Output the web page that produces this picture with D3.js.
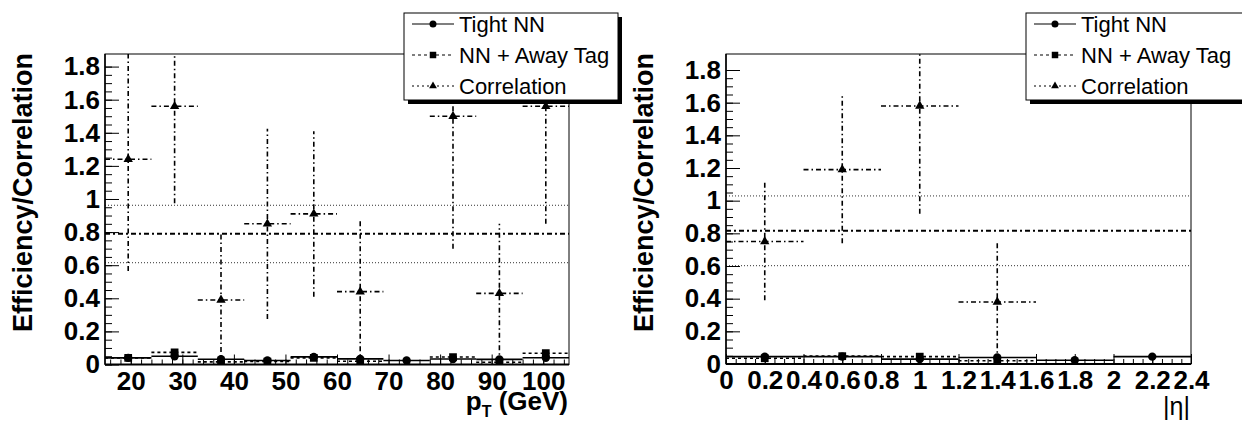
<html>
<head>
<script src="https://cdnjs.cloudflare.com/ajax/libs/d3/7.8.5/d3.min.js" charset="utf-8"></script>
<style type="text/css">
body { margin: 0; background: #fff; }
text { font-family: "Liberation Sans", Arial, Helvetica, sans-serif; }
</style>
</head>
<body>
<script type="text/javascript">
// ---- pT panel data (bins of 9 GeV) ----
var ptEdges = [15, 24, 33, 42, 51, 60, 69, 78, 87, 96, 105]
var ptTight = [0.040, 0.050, 0.032, 0.024, 0.046, 0.034, 0.024, 0.033, 0.031, 0.041]
var ptTightErr = [0.006, 0.007, 0.006, 0.005, 0.006, 0.006, 0.005, 0.006, 0.006, 0.007]
var ptAway = [0.040, 0.073, 0.016, 0.018, 0.040, 0.020, 0, 0.045, 0.014, 0.068]
var ptAwayErr = [0.012, 0.016, 0.010, 0.010, 0.012, 0.010, 0, 0.014, 0.010, 0.016]
var ptCorr = [1.24, 1.56, 0.39, 0.85, 0.91, 0.44, null, 1.50, 0.43, 1.56]
var ptCorrErr = [0.675, 0.585, 0.40, 0.575, 0.50, 0.435, null, 0.80, 0.42, 0.71]
var ptMean = 0.79
var ptBand = [0.615, 0.962]
var ptTicks = [20, 30, 40, 50, 60, 70, 80, 90, 100]

// ---- |eta| panel data (bins of 0.4) ----
var etaEdges = [0, 0.4, 0.8, 1.2, 1.6, 2.0, 2.4]
var etaTight = [0.045, 0.045, 0.030, 0.040, 0.023, 0.045]
var etaTightErr = [0.006, 0.006, 0.006, 0.006, 0.005, 0.006]
var etaAway = [0.035, 0.048, 0.045, 0.020, 0, 0]
var etaAwayErr = [0.010, 0.012, 0.012, 0.010, 0, 0]
var etaCorr = [0.75, 1.19, 1.58, 0.38, null, null]
var etaCorrErr = [0.36, 0.45, 0.66, 0.36, null, null]
var etaMean = 0.816
var etaBand = [0.602, 1.029]
var etaTicks = [0, 0.2, 0.4, 0.6, 0.8, 1, 1.2, 1.4, 1.6, 1.8, 2, 2.2, 2.4]

var yTicks = [0, 0.2, 0.4, 0.6, 0.8, 1, 1.2, 1.4, 1.6, 1.8]

var width = 1242, height = 423
var svg = d3.select("body").append("svg")
  .attr("width", width)
  .attr("height", height)

var fmt = function(d){ return String(+d.toFixed(1)) }

var styles = {
  tight: {dash: null, width: 1.6, sym: d3.symbolCircle, size: 55},
  away: {dash: "3,3", width: 1.6, sym: d3.symbolSquare, size: 60},
  corr: {dash: "5,3,1.5,3", width: 1.6, sym: d3.symbolTriangle, size: 38}
}

function drawPanel(p) {
  var g = svg.append("g")
  var x = d3.scaleLinear().domain(p.xDomain).range([p.left, p.right])
  var y = d3.scaleLinear().domain([0, p.yMax]).range([p.bottom, p.top])

  svg.append("clipPath").attr("id", "clip" + p.id).append("rect")
    .attr("x", p.left).attr("y", p.top)
    .attr("width", p.right - p.left).attr("height", p.bottom - p.top)
  var plot = g.append("g").attr("clip-path", "url(#clip" + p.id + ")")

  // band and mean lines
  plot.selectAll(".band").data(p.band).enter().append("line")
    .attr("x1", p.left).attr("x2", p.right)
    .attr("y1", function(d){ return y(d) }).attr("y2", function(d){ return y(d) })
    .attr("stroke", "#333").attr("stroke-width", 1).attr("stroke-dasharray", "1,2")
  plot.append("line")
    .attr("x1", p.left).attr("x2", p.right)
    .attr("y1", y(p.mean)).attr("y2", y(p.mean))
    .attr("stroke", "#000").attr("stroke-width", 2).attr("stroke-dasharray", "5,3,2,3")

  var bins = p.edges.slice(0, -1).map(function(lo, i){
    return {lo: lo, hi: p.edges[i+1], c: (lo + p.edges[i+1]) / 2,
      tight: p.tight[i], tightErr: p.tightErr[i],
      away: p.away[i], awayErr: p.awayErr[i],
      corr: p.corr[i], corrErr: p.corrErr[i]}
  })

  ;["away", "tight", "corr"].forEach(function(key){
    var st = styles[key]
    var pts = bins.filter(function(d){ return d[key] != null && d[key] > 0 })
    var s = plot.append("g")
    s.selectAll(".h").data(pts).enter().append("line")
      .attr("x1", function(d){ return x(d.lo) }).attr("x2", function(d){ return x(d.hi) })
      .attr("y1", function(d){ return y(d[key]) }).attr("y2", function(d){ return y(d[key]) })
      .attr("stroke", "#000").attr("stroke-width", st.width)
      .attr("stroke-dasharray", st.dash)
    s.selectAll(".v").data(pts).enter().append("line")
      .attr("x1", function(d){ return x(d.c) }).attr("x2", function(d){ return x(d.c) })
      .attr("y1", function(d){ return y(Math.max(0, d[key] - d[key + "Err"])) })
      .attr("y2", function(d){ return y(d[key] + d[key + "Err"]) })
      .attr("stroke", "#000").attr("stroke-width", st.width)
      .attr("stroke-dasharray", st.dash)
    s.selectAll(".m").data(pts).enter().append("path")
      .attr("d", d3.symbol().type(st.sym).size(st.size))
      .attr("transform", function(d){ return "translate(" + x(d.c) + "," + y(d[key]) + ")" })
      .attr("fill", "#000")
  })

  // frame
  g.append("rect")
    .attr("x", p.left).attr("y", p.top)
    .attr("width", p.right - p.left).attr("height", p.bottom - p.top)
    .attr("fill", "none").attr("stroke", "#000").attr("stroke-width", 1)

  // y axis, major and minor ticks
  var yMinor = d3.range(0, 37).map(function(i){ return i * 0.05 }).filter(function(v){ return v <= p.yMax })
  g.append("g").attr("transform", "translate(" + p.left + ",0)")
    .call(d3.axisLeft(y).tickValues(yMinor).tickFormat("").tickSizeInner(-7).tickSizeOuter(0))
    .call(function(a){ a.select(".domain").remove() })
  var ya = g.append("g").attr("transform", "translate(" + p.left + ",0)")
    .call(d3.axisLeft(y).tickValues(yTicks).tickFormat(fmt).tickSizeInner(-14).tickSizeOuter(0).tickPadding(5))
  ya.select(".domain").remove()
  ya.selectAll("text").style("font-size", "26px").style("font-weight", "bold")

  // x axis
  g.append("g").attr("transform", "translate(0," + p.bottom + ")")
    .call(d3.axisBottom(x).tickValues(p.xMinor).tickFormat("").tickSizeInner(-5).tickSizeOuter(0))
    .call(function(a){ a.select(".domain").remove() })
  var xa = g.append("g").attr("transform", "translate(0," + p.bottom + ")")
    .call(d3.axisBottom(x).tickValues(p.xTicks).tickFormat(fmt).tickSizeInner(-10).tickSizeOuter(0).tickPadding(7))
  xa.select(".domain").remove()
  xa.selectAll("text").style("font-size", "26px").style("font-weight", "bold")

  g.append("line").attr("x1", p.left).attr("x2", p.left)
    .attr("y1", p.top).attr("y2", p.bottom).attr("stroke", "#000").attr("stroke-width", 1.5)
  g.append("line").attr("x1", p.left).attr("x2", p.right)
    .attr("y1", p.bottom).attr("y2", p.bottom).attr("stroke", "#000").attr("stroke-width", 2)

  // y title
  g.append("text")
    .attr("transform", "translate(" + (p.left - 73) + "," + 192.5 + ") rotate(-90)")
    .attr("text-anchor", "middle")
    .style("font-size", "27px").style("font-weight", "bold")
    .text("Efficiency/Correlation")

  p.xTitle(g)

  // legend
  var lx = p.legendX, ly = 13, lw = p.legendW, lh = 87
  var lg = g.append("g")
  lg.append("rect").attr("x", lx + 4).attr("y", ly + 4).attr("width", lw).attr("height", lh).attr("fill", "#000")
  lg.append("rect").attr("x", lx).attr("y", ly).attr("width", lw).attr("height", lh)
    .attr("fill", "#fff").attr("stroke", "#000").attr("stroke-width", 1)
  var rows = [["tight", "Tight NN"], ["away", "NN + Away Tag"], ["corr", "Correlation"]]
  rows.forEach(function(r, i){
    var st = styles[r[0]]
    var by = 32 + i * 31
    lg.append("line").attr("x1", lx + 8).attr("x2", lx + 50)
      .attr("y1", by - 8).attr("y2", by - 8)
      .attr("stroke", "#000").attr("stroke-width", 1.2).attr("stroke-dasharray", r[0] == "corr" ? "2,3" : st.dash)
    lg.append("path").attr("d", d3.symbol().type(st.sym).size(st.size * 0.7))
      .attr("transform", "translate(" + (lx + 29) + "," + (by - 8) + ")").attr("fill", "#000")
    lg.append("text").attr("x", lx + 55).attr("y", by)
      .style("font-size", "22px").text(r[1])
  })
}

drawPanel({
  id: "pt", left: 105, right: 569, top: 54, bottom: 364.5,
  xDomain: [15, 105], yMax: 1.876,
  edges: ptEdges, tight: ptTight, tightErr: ptTightErr, away: ptAway, awayErr: ptAwayErr,
  corr: ptCorr, corrErr: ptCorrErr, mean: ptMean, band: ptBand,
  xTicks: ptTicks, xMinor: d3.range(16, 105, 2),
  legendX: 404, legendW: 214,
  xTitle: function(g){
    var t = g.append("text").attr("x", 568).attr("y", 410).attr("text-anchor", "end")
      .style("font-size", "26px").style("font-weight", "bold")
    t.append("tspan").text("p")
    t.append("tspan").attr("dy", 7).style("font-size", "16px").text("T")
    t.append("tspan").attr("dy", -7).text(" (GeV)")
  }
})

drawPanel({
  id: "eta", left: 726, right: 1191, top: 54, bottom: 364,
  xDomain: [0, 2.4], yMax: 1.898,
  edges: etaEdges, tight: etaTight, tightErr: etaTightErr, away: etaAway, awayErr: etaAwayErr,
  corr: etaCorr, corrErr: etaCorrErr, mean: etaMean, band: etaBand,
  xTicks: etaTicks, xMinor: d3.range(0, 49).map(function(i){ return i * 0.05 }),
  legendX: 1026, legendW: 222,
  xTitle: function(g){
    g.append("text").attr("x", 1190).attr("y", 415).attr("text-anchor", "end")
      .style("font-size", "25px").text("|\u03b7|")
  }
})
</script>
</body>
</html>
